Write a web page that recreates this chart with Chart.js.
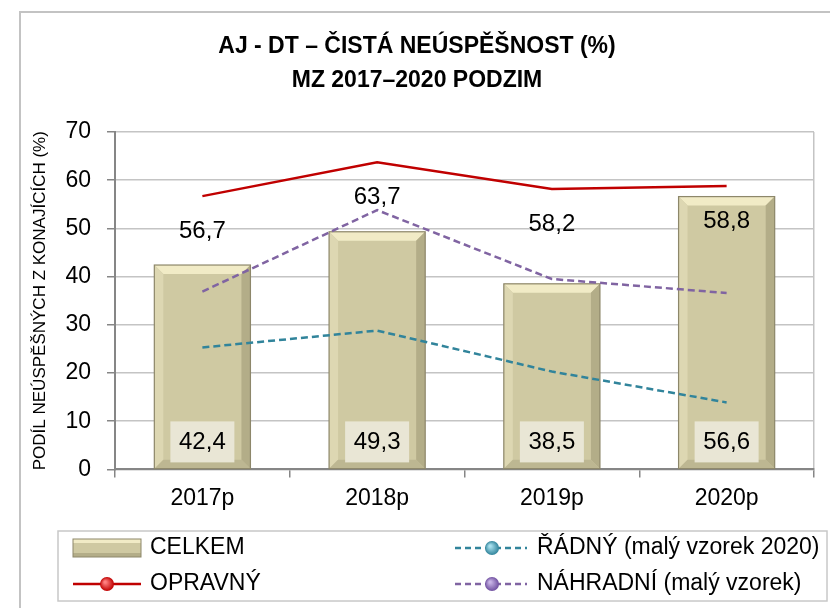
<!DOCTYPE html>
<html>
<head>
<meta charset="utf-8">
<script src="https://cdn.jsdelivr.net/npm/chart.js@4.4.1/dist/chart.umd.min.js"></script>
<style>
  html, body { margin: 0; padding: 0; background: #fff; }
  #wrap { width: 830px; height: 608px; }
</style>
</head>
<body>
<div id="wrap"><canvas id="grafAJ" width="830" height="608"></canvas></div>
<script>
// data z grafu
const roky = ['2017p', '2018p', '2019p', '2020p'];
const celkem = [42.4, 49.3, 38.5, 56.6];
const opravny = [56.7, 63.7, 58.2, 58.8];
const radny = [25.3, 28.8, 20.3, 13.9];
const nahradni = [36.9, 53.8, 39.5, 36.6];
const yTicks = [0, 10, 20, 30, 40, 50, 60, 70];

const FONT = "'Liberation Sans', Arial, sans-serif";
const fmt = (v) => v.toFixed(1).replace('.', ',');

// ramecek kolem celeho grafu
const ramecek = {
    id: 'ramecek',
    beforeDraw(chart) {
        const c = chart.ctx;
        c.save();
        c.fillStyle = '#fff';
        c.fillRect(0, 0, chart.width, chart.height);
        c.strokeStyle = '#c3c3c3';
        c.lineWidth = 2;
        c.strokeRect(20, 12, 830, 700);
        c.restore();
    }
};

// zkosene hrany sloupcu
const bevel = {
    id: 'bevel',
    afterDatasetDraw(chart, args) {
        if (args.index !== 0) return;
        const c = chart.ctx;
        const meta = chart.getDatasetMeta(0);
        const b = 9;
        meta.data.forEach((bar) => {
            const l = bar.x - bar.width / 2, r = bar.x + bar.width / 2;
            const t = bar.y, bt = bar.base;
            c.save();
            const poly = (pts, col) => {
                c.beginPath();
                c.moveTo(pts[0][0], pts[0][1]);
                pts.slice(1).forEach(p => c.lineTo(p[0], p[1]));
                c.closePath();
                c.fillStyle = col;
                c.fill();
            };
            poly([[l, t], [r, t], [r - b, t + b], [l + b, t + b]], '#f1ebc6');
            poly([[l, t], [l + b, t + b], [l + b, bt - b], [l, bt]], '#ddd7b2');
            poly([[r, t], [r, bt], [r - b, bt - b], [r - b, t + b]], '#b3ad88');
            poly([[l, bt], [l + b, bt - b], [r - b, bt - b], [r, bt]], '#bdb792');
            c.strokeStyle = '#8d876a';
            c.lineWidth = 1.2;
            c.strokeRect(l, t, r - l, bt - t);
            c.restore();
        });
    }
};

// popisky hodnot
const popisky = {
    id: 'popisky',
    afterDatasetsDraw(chart) {
        const c = chart.ctx;
        c.save();
        c.font = '24px ' + FONT;
        c.textAlign = 'center';
        c.textBaseline = 'middle';
        chart.getDatasetMeta(0).data.forEach((bar, i) => {
            const y = chart.chartArea.bottom - 27;
            c.fillStyle = '#e9e6d5';
            c.fillRect(bar.x - 32, y - 21, 64, 41);
            c.fillStyle = '#000';
            c.fillText(fmt(celkem[i]), bar.x, y);
        });
        chart.getDatasetMeta(1).data.forEach((pt, i) => {
            c.fillStyle = '#000';
            c.fillText(fmt(opravny[i]), pt.x, pt.y + 35);
        });
        c.restore();
    }
};

// vlastni legenda ve dvou sloupcich
const legenda = {
    id: 'legenda',
    afterDraw(chart) {
        const c = chart.ctx;
        c.save();
        c.strokeStyle = '#c8c8c8';
        c.lineWidth = 1.5;
        c.strokeRect(58, 531, 769, 70);

        const koule = (x, y, col, light) => {
            const g = c.createRadialGradient(x - 2, y - 2, 1, x, y, 7);
            g.addColorStop(0, light);
            g.addColorStop(1, col);
            c.beginPath();
            c.arc(x, y, 7, 0, Math.PI * 2);
            c.fillStyle = g;
            c.fill();
        };
        const cara = (x1, x2, y, col, dash) => {
            c.beginPath();
            c.setLineDash(dash);
            c.moveTo(x1, y);
            c.lineTo(x2, y);
            c.strokeStyle = col;
            c.lineWidth = 2.5;
            c.stroke();
            c.setLineDash([]);
        };

        // CELKEM
        const y1 = 548, y2 = 584;
        c.fillStyle = '#cfc9a2';
        c.fillRect(73, y1 - 9, 68, 18);
        c.fillStyle = '#f1ebc6';
        c.fillRect(73, y1 - 9, 68, 4);
        c.fillStyle = '#b3ad88';
        c.fillRect(73, y1 + 5, 68, 4);
        c.strokeStyle = '#8d876a';
        c.lineWidth = 1;
        c.strokeRect(73, y1 - 9, 68, 18);

        cara(73, 141, y2, '#c00000', []);
        koule(107, y2, '#c00000', '#ff8080');
        cara(455, 527, y1, '#31849b', [6, 4]);
        koule(492, y1, '#31849b', '#a8e0ee');
        cara(455, 527, y2, '#8064a2', [6, 4]);
        koule(492, y2, '#7050a0', '#c8b4e6');

        c.font = '23px ' + FONT;
        c.fillStyle = '#000';
        c.textBaseline = 'middle';
        c.textAlign = 'left';
        const ds = chart.data.datasets;
        c.fillText(ds[0].label, 150, y1);
        c.fillText(ds[1].label, 150, y2);
        c.fillText(ds[2].label, 537, y1);
        c.fillText(ds[3].label, 537, y2);
        c.restore();
    }
};

const ctx = document.getElementById('grafAJ').getContext('2d');
new Chart(ctx, {
    type: 'bar',
    data: {
        labels: roky,
        datasets: [
            {
                label: 'CELKEM',
                data: celkem,
                backgroundColor: '#cfc9a2',
                borderWidth: 0,
                barPercentage: 0.55,
                categoryPercentage: 1,
                order: 2
            },
            {
                type: 'line',
                label: 'OPRAVNÝ',
                data: opravny,
                borderColor: '#c00000',
                borderWidth: 2.5,
                pointRadius: 0,
                tension: 0,
                order: 0
            },
            {
                type: 'line',
                label: 'ŘÁDNÝ (malý vzorek 2020)',
                data: radny,
                borderColor: '#31849b',
                borderWidth: 2.5,
                borderDash: [7, 4],
                pointRadius: 0,
                tension: 0,
                order: 0
            },
            {
                type: 'line',
                label: 'NÁHRADNÍ (malý vzorek)',
                data: nahradni,
                borderColor: '#8064a2',
                borderWidth: 2.5,
                borderDash: [7, 4],
                pointRadius: 0,
                tension: 0,
                order: 0
            }
        ]
    },
    options: {
        responsive: false,
        animation: false,
        devicePixelRatio: 1,
        layout: { padding: { left: 20, right: 16, top: 19, bottom: 89 } },
        plugins: {
            legend: { display: false },
            tooltip: { enabled: false },
            title: {
                display: true,
                text: ['AJ - DT – ČISTÁ NEÚSPĚŠNOST (%)', 'MZ 2017–2020 PODZIM'],
                color: '#000',
                font: { family: FONT, size: 23, weight: 'bold', lineHeight: 1.5 },
                padding: { top: 10, bottom: 34 }
            }
        },
        scales: {
            x: {
                grid: {
                    offset: true,
                    color: (c) => c.type === 'scale' ? '#c4c4c4' : 'rgba(0,0,0,0)',
                    lineWidth: 1.5,
                    tickColor: '#868686',
                    tickLength: 8
                },
                border: { color: '#868686', width: 2 },
                ticks: {
                    color: '#000',
                    font: { family: FONT, size: 23 },
                    padding: 7
                }
            },
            y: {
                min: 0,
                max: 70,
                afterBuildTicks: (scale) => {
                    scale.ticks = yTicks.map(v => ({ value: v }));
                },
                afterFit: (scale) => { scale.width = 95; },
                grid: {
                    color: '#c4c4c4',
                    lineWidth: 1.5,
                    tickColor: '#868686',
                    tickLength: 8
                },
                border: { color: '#868686', width: 2 },
                ticks: {
                    color: '#000',
                    font: { family: FONT, size: 23 },
                    padding: 16
                },
                title: {
                    display: true,
                    text: 'PODÍL NEÚSPĚŠNÝCH Z KONAJÍCÍCH (%)',
                    color: '#000',
                    font: { family: FONT, size: 17 },
                    padding: { top: 10, bottom: 0 }
                }
            }
        }
    },
    plugins: [ramecek, bevel, popisky, legenda]
});
</script>
</body>
</html>
